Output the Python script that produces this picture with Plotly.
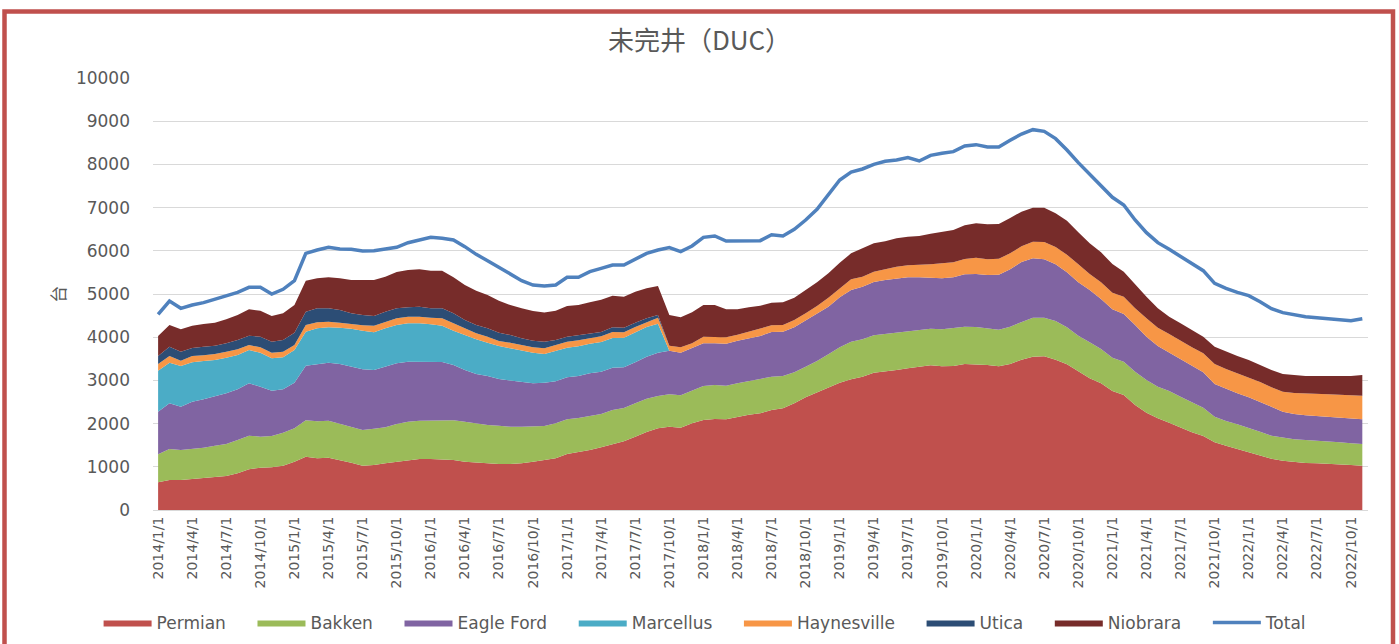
import plotly.graph_objects as go

# ---- categories (monthly, 2014/1/1 .. 2022/11/1) ----
months = [f"{y}/{m}/1" for y in range(2014, 2023) for m in range(1, 13)][:107]
tick_labels = months[::3]

# ---- series values (DUC wells) ----
permian = [640, 694, 694, 718, 733, 772, 787, 849, 941, 980, 988, 1026, 1119, 1235, 1196, 1211, 1157, 1096, 1026, 1042,
           1080, 1119, 1157, 1181, 1181, 1173, 1157, 1119, 1096, 1073, 1065, 1065, 1080, 1119, 1150,
           1196, 1296, 1335, 1389, 1451, 1528, 1590, 1698, 1806, 1890,
           1929, 1906, 2006, 2083, 2106, 2099, 2160, 2207,
           2238, 2315, 2353, 2469, 2608, 2724, 2832, 2948, 3025, 3086, 3179, 3202, 3241, 3279, 3318, 3349, 3326, 3333,
           3380, 3372, 3356, 3326, 3380, 3480, 3549, 3557, 3480, 3372, 3202, 3048, 2932, 2755, 2662, 2431, 2253, 2122,
           2022, 1906, 1798, 1713, 1566, 1489, 1412, 1335, 1258, 1188, 1142, 1111, 1088, 1080, 1073, 1057, 1042, 1026]

bakken = [649, 718, 695, 694, 710, 717, 741, 771, 780, 718, 725, 764, 771, 841, 856, 857, 834, 818, 826, 841,
          834, 872, 888, 887, 887, 887, 919, 926, 910, 895, 887, 864, 849, 818, 794,
          810, 803, 795, 795, 771, 787, 771, 771, 771, 749,
          748, 748, 756, 787, 788, 779, 772, 779,
          802, 771, 749, 718, 710, 725, 771, 817, 872, 865, 864, 872, 864, 849, 833, 849, 856, 872,
          864, 864, 849, 848, 864, 872, 903, 895, 895, 856, 833, 833, 795, 771, 772, 771, 756, 733,
          733, 717, 694, 656, 594, 571, 571, 571, 555, 533, 532, 525, 532, 525, 517, 509, 501, 502]

eagle_ford = [987, 1057, 1003, 1096, 1119, 1134, 1173, 1173, 1211, 1157, 1049, 1003, 1057, 1265, 1328, 1342, 1389, 1404, 1404, 1358,
              1404, 1404, 1389, 1366, 1366, 1366, 1280, 1196, 1142, 1134, 1080, 1065, 1042, 995, 1003,
              972, 972, 972, 980, 980, 980, 941, 949, 972, 1003,
              1011, 988, 980, 988, 964, 972, 988, 980,
              988, 1034, 1026, 1041, 1065, 1088, 1104, 1158, 1196, 1219, 1235, 1250, 1258, 1258, 1235, 1180, 1181, 1181,
              1211, 1227, 1235, 1274, 1327, 1389, 1374, 1351, 1312, 1274, 1235, 1212, 1157, 1119, 1103, 1080, 1003, 941,
              887, 872, 849, 818, 757, 741, 718, 702, 695, 671, 602, 586, 571, 571, 570, 571, 571, 571]

marcellus = [949, 941, 941, 910, 887, 849, 825, 795, 772, 787, 749, 741, 757, 787, 825, 818, 841, 880, 895, 872,
             887, 887, 887, 887, 864, 841, 795, 810, 803, 771, 764, 748, 717, 710, 664,
             703, 687, 687, 686, 687, 686, 687, 695, 687, 671] + [0] * 62

haynesville = [155, 155, 124, 147, 131, 139, 139, 131, 115, 123, 131, 131, 115, 154, 139, 132, 115, 100, 124, 154,
               155, 155, 154, 154, 154, 170, 170, 154, 139, 139, 116, 131, 124, 123, 131,
               131, 139, 138, 131, 131, 139, 124, 123, 116, 139,
               116, 123, 116, 154, 154, 147, 139, 170,
               170, 155, 154, 170, 169, 185, 208, 208, 247, 231, 239, 247, 270, 278, 285, 309, 347, 347,
               355, 378, 363, 370, 370, 362, 385, 401, 401, 408, 417, 370, 386, 386, 401, 386, 425, 425,
               432, 417, 424, 440, 463, 463, 463, 463, 455, 448, 463, 486, 502, 509, 517, 533, 540, 548]

utica = [185, 216, 208, 185, 201, 193, 193, 216, 216, 247, 255, 270, 286, 309, 324, 308, 294, 254, 239, 224,
         231, 231, 216, 232, 216, 231, 231, 193, 192, 193, 193, 178, 162, 155, 150,
         123, 115, 124, 109, 100, 108, 108, 100, 85, 62] + [0] * 62

niobrara = [463, 501, 517, 517, 525, 532, 556, 579, 610, 602, 594, 617, 640, 718, 695, 718, 733, 772, 810, 833,
            810, 841, 865, 864, 872, 872, 834, 810, 795, 772, 741, 694, 694, 686, 679,
            679, 710, 694, 717, 749, 733, 717, 718, 694, 671,
            710, 695, 718, 733, 733, 648, 586, 560,
            530, 524, 525, 517, 541, 548, 563, 594, 601, 656, 656, 648, 656, 663, 672, 710, 733, 748,
            780, 795, 810, 802, 818, 803, 787, 794, 779, 788, 740, 710, 695, 663, 579, 556, 501, 447,
            401, 409, 402, 385, 401, 401, 401, 401, 393, 401, 409, 409, 409, 417, 425, 432, 448, 478]

total = [4529, 4838, 4668, 4745, 4800, 4877, 4954, 5039, 5154, 5154, 5000, 5108, 5309, 5941, 6018, 6080, 6042, 6034, 5995, 6003,
         6042, 6080, 6188, 6250, 6312, 6289, 6250, 6096, 5918, 5772, 5617, 5463, 5309, 5208, 5185,
         5208, 5386, 5386, 5517, 5594, 5671, 5671, 5802, 5941, 6019,
         6073, 5980, 6111, 6312, 6343, 6227, 6227, 6242,
         6235, 6373, 6343, 6497, 6713, 6960, 7315, 7639, 7824, 7894, 8002, 8071, 8102, 8156, 8079, 8210, 8256, 8295,
         8426, 8457, 8403, 8403, 8557, 8704, 8804, 8765, 8596, 8333, 8040, 7770, 7500, 7238, 7060, 6713, 6420, 6188,
         6034, 5864, 5710, 5540, 5247, 5131, 5039, 4961, 4823, 4660, 4568, 4514, 4475, 4452, 4429, 4414, 4383, 4429]

series = [
    ("Permian", permian, "#C0504D"),
    ("Bakken", bakken, "#9BBB59"),
    ("Eagle Ford", eagle_ford, "#8064A2"),
    ("Marcellus", marcellus, "#4BACC6"),
    ("Haynesville", haynesville, "#F79646"),
    ("Utica", utica, "#2C4D75"),
    ("Niobrara", niobrara, "#772C2A"),
]

FONT = "DejaVu Sans, Noto Sans CJK SC, sans-serif"
GREY = "#595959"
PAD = "\u00a0\u00a0\u00a0\u00a0"   # extra spacing between legend entries

fig = go.Figure()
for name, vals, color in series:
    fig.add_trace(go.Scatter(
        x=months, y=vals, name=name + PAD, mode="lines", stackgroup="duc",
        line=dict(width=0, color=color), fillcolor=color,
    ))
fig.add_trace(go.Scatter(
    x=months, y=total, name="Total", mode="lines",
    line=dict(color="#4F81BD", width=3.5),
))

fig.update_layout(
    width=1399, height=644,
    margin=dict(l=153, r=31, t=78, b=134),
    paper_bgcolor="white", plot_bgcolor="white",
    font=dict(family=FONT, color=GREY),
    title=dict(text="未完井（DUC）", x=0.5, xanchor="center", y=1 - 41 / 644, yanchor="middle",
               font=dict(size=26, color=GREY, family="Noto Sans CJK SC, DejaVu Sans")),
    showlegend=True,
    legend=dict(orientation="h", xref="container", yref="container", x=0.504, xanchor="center",
                y=1 - 623 / 644, yanchor="middle", traceorder="normal", font=dict(size=17, color=GREY),
                itemwidth=48),
    xaxis=dict(type="category", range=[-0.45, 106.5], tickvals=tick_labels, ticktext=tick_labels,
               tickangle=-90, tickfont=dict(size=14, color=GREY), showgrid=False,
               showline=True, linecolor="#D9D9D9", linewidth=1, ticks=""),
    yaxis=dict(range=[0, 10000], dtick=1000, tickformat="d", tickfont=dict(size=17, color=GREY),
               gridcolor="#D9D9D9", gridwidth=1, zeroline=False, showline=False,
               ticklabelstandoff=22),
    annotations=[dict(text="台", xref="paper", yref="paper", x=(58 - 153) / 1215, y=0.498,
                      xanchor="center", yanchor="middle",
                      textangle=-90, showarrow=False, font=dict(size=17, color=GREY,
                                                               family="Noto Sans CJK SC"))],
    shapes=[dict(type="rect", xref="paper", yref="paper", x0=(4.5 - 153) / 1215, x1=(1393 - 153) / 1215,
                 y0=-0.35, y1=(510 - 11.5) / 432,
                 line=dict(color="#C0504D", width=4.5), fillcolor="rgba(0,0,0,0)", layer="above")],
)

fig.write_html("out.html", config={"displayModeBar": False},
               post_script="document.body.style.margin='0';")
